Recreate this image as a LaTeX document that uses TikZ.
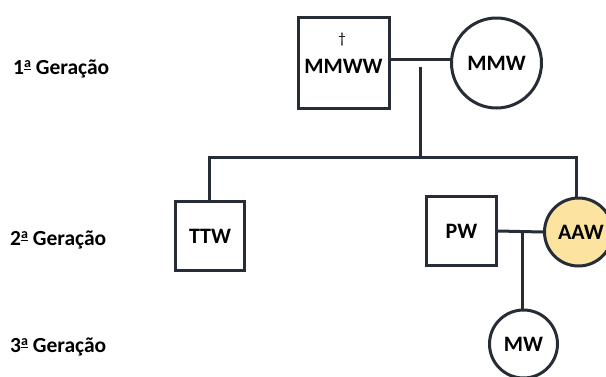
\documentclass[tikz,border=0pt]{standalone}
\usepackage{fontspec}
\setmainfont{Carlito}
\definecolor{ln}{HTML}{262D37}
\definecolor{yel}{HTML}{FCE4A0}
\newcommand{\myordf}{\raisebox{0.68ex}{\fontsize{14}{14}\selectfont\underline{a}}}
\begin{document}
\begin{tikzpicture}[x=1pt,y=-1pt,
  box/.style={draw=ln, line width=3pt, rectangle, minimum size=#1, inner sep=0pt, font=\bfseries\fontsize{22}{26}\selectfont},
  circ/.style={draw=ln, line width=3pt, circle, minimum size=#1, inner sep=0pt, font=\bfseries\fontsize{22}{26}\selectfont},
  gen/.style={anchor=west, inner sep=0pt, font=\bfseries\fontsize{21.5}{26}\selectfont},
  link/.style={draw=ln, line width=3pt}]
\useasboundingbox (0,0) rectangle (606,376);
% generation labels
\node[gen] (g1) at (13,69) {1\myordf{} Geração};
\node[gen] (g2) at (10,240) {2\myordf{} Geração};
\node[gen] (g3) at (10,347) {3\myordf{} Geração};
% first generation
\node[box=91] (mmww) at (343.5,63) {};
\node[inner sep=0pt, font=\bfseries\fontsize{22}{26}\selectfont] (mmwwt) at (343.5,66.5) {MMWW};
\node[inner sep=0pt, font=\fontsize{15}{18}\selectfont] (dag) at (342,40) {†};
\node[circ=90] (mmw) at (496.5,63) {MMW};
% second generation
\node[box=68.5] (ttw) at (210,236) {TTW};
\node[box=69.5] (pw) at (461.5,231) {PW};
\node[circ=68, fill=yel] (aaw) at (578.5,232) {};
\node[inner sep=0pt, font=\bfseries\fontsize{22}{26}\selectfont] (aawt) at (581,232) {AAW};
% third generation
\node[circ=68] (mw) at (523.5,344) {MW};
% connectors
\coordinate (c1) at (420,66.5);
\coordinate (s1) at (420,157);
\coordinate (sl) at (209,157);
\coordinate (sr) at (576,157);
\coordinate (c2) at (522,231);
\draw[link] ([yshift=3.5]mmww.east) -- ([yshift=3.5]mmw.west);
\draw[link] (c1) -- (s1);
\draw[link, line join=miter] (ttw.north -| sl) -- (sl) -- (sr) -- (sr |- aaw.north);
\draw[link] (pw.east) -- (aaw.west);
\draw[link] (c2) -- (c2 |- mw.north);
\end{tikzpicture}
\end{document}
